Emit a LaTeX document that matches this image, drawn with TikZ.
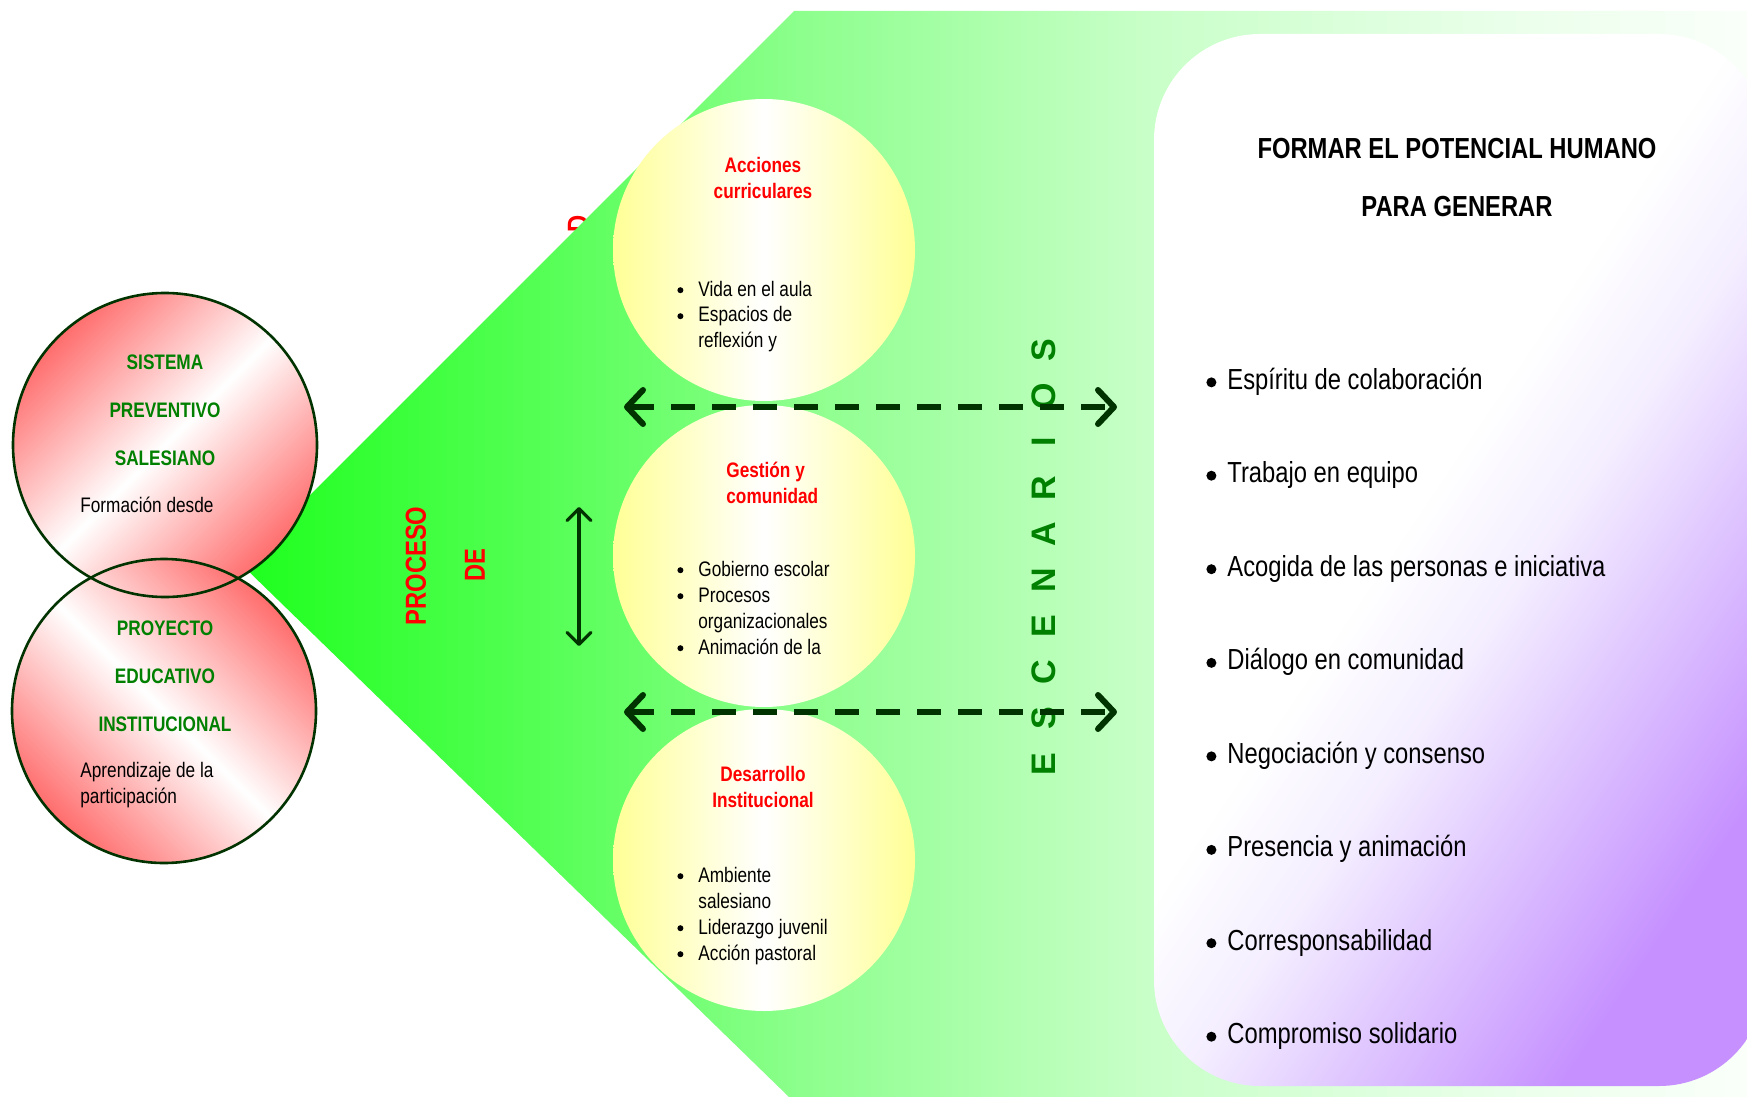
\documentclass[tikz,border=0pt]{standalone}
\usepackage{fontspec}
\setmainfont{Liberation Sans}[FakeStretch=0.82]
\newfontfamily\widefont{Liberation Sans}
\usetikzlibrary{shapes,arrows.meta,positioning}

\definecolor{txtgreen}{RGB}{0,128,0}
\definecolor{darkgreen}{RGB}{0,51,0}
\definecolor{rosy}{RGB}{255,110,110}
\definecolor{ylw}{RGB}{255,255,150}
\definecolor{lilac}{RGB}{198,145,255}
\definecolor{midLilac}{RGB}{222,196,255}
\definecolor{paleLilac}{RGB}{244,238,255}
\definecolor{gA}{RGB}{30,255,30}
\definecolor{gB}{RGB}{85,255,85}
\definecolor{gC}{RGB}{140,255,140}
\definecolor{gD}{RGB}{200,255,200}
\definecolor{gE}{RGB}{235,255,235}
\definecolor{gF}{RGB}{250,255,250}
\pgfdeclarehorizontalshading{greenfade}{100bp}{color(0bp)=(gA); color(25bp)=(gA); color(35bp)=(gB); color(43.5bp)=(gC); color(55bp)=(gD); color(67.5bp)=(gE); color(75bp)=(gF); color(100bp)=(gF)}
\pgfdeclareverticalshading{lilacfade}{100bp}{color(0bp)=(lilac); color(26bp)=(lilac); color(37bp)=(midLilac); color(46bp)=(paleLilac); color(54bp)=(white); color(100bp)=(white)}
% round list bullet
\newcommand{\dotb}[2]{\tikz[baseline=0pt]\fill (0pt,#2) circle[radius=#1];}

\begin{document}
\begin{tikzpicture}[x=0.5pt,y=-0.5pt,
    redball/.style={circle, minimum size=152pt, inner sep=0pt},
    ring/.style={draw=darkgreen, line width=1.3pt},
    yelball/.style={circle, minimum size=151pt, inner sep=0pt, left color=ylw, right color=ylw, middle color=white},
    greenhead/.style={font=\fontsize{10.5}{13}\selectfont\bfseries, text=txtgreen},
    redhead/.style={font=\fontsize{10.5}{13}\selectfont\bfseries, text=red, align=center, inner sep=0pt},
    smalltxt/.style={font=\fontsize{10.5}{13}\selectfont, align=left, inner sep=0pt},
    bigred/.style={font=\fontsize{14.5}{17}\selectfont\bfseries, text=red, rotate=90},
    bigtxt/.style={font=\fontsize{14.5}{17}\selectfont, inner sep=0pt},
    esclet/.style={font=\widefont\fontsize{17}{20}\selectfont\bfseries, text=txtgreen, rotate=90},
    dasharrow/.style={darkgreen, line width=3pt, dash pattern=on 12pt off 8.5pt,
        {Straight Barb[round,length=8pt,width=17pt]}-{Straight Barb[round,length=8pt,width=17pt]}},
    thinarrow/.style={darkgreen, line width=1.6pt,
        {Straight Barb[round,length=6pt,width=12pt]}-{Straight Barb[round,length=6pt,width=12pt]}}
  ]
  \useasboundingbox (0,0) rectangle (1747,1097);

  % Hidden label behind the cone
  \node[bigred] (hid) at (578,224) {D};

  % Green cone
  \shade[shading=greenfade] (241,564) -- (794,11) -- (1747,11) -- (1747,1097) -- (789,1097) -- cycle;

  % Left circles
  \node[redball, top color=rosy, bottom color=rosy, middle color=white, shading angle=45] (sps) at (165,445) {};
  \node[redball, top color=rosy, bottom color=rosy, middle color=white, shading angle=-45] (pei) at (164,711) {};
  \draw[ring] (sps.center) circle (76pt);
  \draw[ring] (pei.center) circle (76pt);

  \node[greenhead] (sps1) at (165,362) {SISTEMA};
  \node[greenhead] (sps2) at (165,410) {PREVENTIVO};
  \node[greenhead] (sps3) at (165,458) {SALESIANO};
  \node[smalltxt, anchor=west] (spsTxt) at (80,505) {Formación desde};

  \node[greenhead] (pei1) at (165,628) {PROYECTO};
  \node[greenhead] (pei2) at (165,676) {EDUCATIVO};
  \node[greenhead] (pei3) at (165,724) {INSTITUCIONAL};
  \node[smalltxt, anchor=west] (peiTxt) at (80,785) {Aprendizaje de la\\participación};

  % Process labels
  \node[bigred] (proc) at (416,566) {PROCESO};
  \node[bigred] (de) at (475,565) {DE};

  % Yellow circles
  \node[yelball] (ac) at (764,250) {};
  \node[yelball] (gc) at (764,556) {};
  \node[yelball] (di) at (764,860) {};

  \node[redhead] (acHead) at (763,178) {Acciones\\curriculares};
  \node[redhead, align=left, anchor=west] (gcHead) at (726,483) {Gestión y\\comunidad};
  \node[redhead] (diHead) at (763,787) {Desarrollo\\Institucional};

  \node[smalltxt, anchor=base west] (acList) at (677,296)
    {\begin{tabular}[t]{@{}p{10.5pt}@{}l@{}}\dotb{1.5pt}{2.9pt} & Vida en el aula\\ \dotb{1.5pt}{2.9pt} & Espacios de\\ & reflexión y\end{tabular}};
  \node[smalltxt, anchor=base west] (gcList) at (677,576)
    {\begin{tabular}[t]{@{}p{10.5pt}@{}l@{}}\dotb{1.5pt}{2.9pt} & Gobierno escolar\\ \dotb{1.5pt}{2.9pt} & Procesos\\ & organizacionales\\ \dotb{1.5pt}{2.9pt} & Animación de la\end{tabular}};
  \node[smalltxt, anchor=base west] (diList) at (677,882)
    {\begin{tabular}[t]{@{}p{10.5pt}@{}l@{}}\dotb{1.5pt}{2.9pt} & Ambiente\\ & salesiano\\ \dotb{1.5pt}{2.9pt} & Liderazgo juvenil\\ \dotb{1.5pt}{2.9pt} & Acción pastoral\end{tabular}};

  % Scenarios label
  \foreach \l [count=\i] in {E,S,C,E,N,A,R,I,O,S}
    \node[esclet] (esc\i) at (1044,810-46*\i) {\l};

  % Arrows
  \coordinate (upL) at (624,407);
  \coordinate (upR) at (1117,407);
  \coordinate (loL) at (624,712);
  \coordinate (loR) at (1117,712);
  \coordinate (vTop) at (579,507);
  \coordinate (vBot) at (579,646);
  \draw[dasharrow] (upL) -- (upR);
  \draw[dasharrow] (loL) -- (loR);
  \draw[thinarrow] (vTop) -- (vBot);

  % Right panel
  \shade[shading=lilacfade, shading angle=56, rounded corners=53pt]
    (1154,34) rectangle (1765,1086);
  \node[bigtxt, font=\fontsize{14.5}{17}\selectfont\bfseries] (title1) at (1457,149) {FORMAR EL POTENCIAL HUMANO};
  \node[bigtxt, font=\fontsize{14.5}{17}\selectfont\bfseries] (title2) at (1457,207) {PARA GENERAR};
  \foreach \txt [count=\i] in {Espíritu de colaboración, Trabajo en equipo, Acogida de las personas e iniciativa,
      Diálogo en comunidad, Negociación y consenso, Presencia y animación, Corresponsabilidad, Compromiso solidario}
    \node[bigtxt, anchor=west] (gen\i) at (1206,288+93.5*\i) {\dotb{2.5pt}{3.4pt}\hspace{5.5pt}\txt};
\end{tikzpicture}
\end{document}
